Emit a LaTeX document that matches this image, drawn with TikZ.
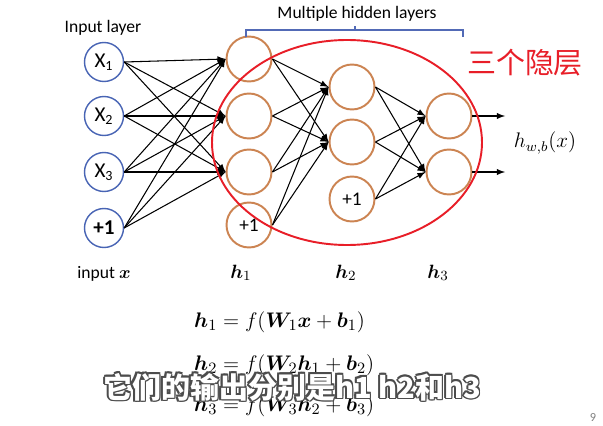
\documentclass[tikz,border=0pt]{standalone}
\usepackage{amsmath,amssymb}
\usepackage{bm}
\usepackage[no-math]{fontspec}
\setmainfont{Carlito}
\newfontfamily\cjk{Noto Sans CJK SC}
\usepackage{xcolor}
\usetikzlibrary{calc}
\definecolor{inblue}{RGB}{72,100,180}
\definecolor{hidorange}{RGB}{204,132,82}
\definecolor{ellred}{RGB}{232,30,40}
\definecolor{brablue}{RGB}{82,106,182}

\begin{document}
\begin{tikzpicture}[x=0.02cm,y=-0.02cm,>=latex,
    innode/.style={circle,draw=inblue,line width=0.8pt,minimum size=0.78cm,inner sep=0pt,font=\fontsize{12}{13}\selectfont},
    hidnode/.style={circle,draw=hidorange,line width=1.1pt,minimum size=0.9cm,inner sep=0pt,font=\fontsize{11}{12}\selectfont},
    conn/.style={->,line width=0.6pt},
    lbl/.style={font=\fontsize{10}{11}\selectfont},
    eqn/.style={anchor=base west,font=\fontsize{12.5}{14}\selectfont},
    subt/.style={font=\cjk\bfseries\fontsize{16.5}{18}\selectfont}]
    \fill[white] (0,0) rectangle (603,426);
    \useasboundingbox (0,0) rectangle (603,426);
    % input layer
    \node[lbl] (inlab) at (103,28) {Input layer};
    \node[innode] (x1) at (104,62) {X\textsubscript{1}};
    \node[innode] (x2) at (104,116) {X\textsubscript{2}};
    \node[innode] (x3) at (104,172) {X\textsubscript{3}};
    \node[innode] (xb) at (104,228) {\textbf{+1}};
    % hidden layer 1
    \node[hidnode] (a1) at (249,59) {};
    \node[hidnode] (a2) at (249,116) {};
    \node[hidnode] (a3) at (249,172) {};
    \node[hidnode] (ab) at (249,225) {+1};
    % hidden layer 2
    \node[hidnode] (b1) at (352,87) {};
    \node[hidnode] (b2) at (352,142) {};
    \node[hidnode] (bb) at (352,199) {+1};
    % hidden layer 3
    \node[hidnode] (c1) at (449,116) {};
    \node[hidnode] (c2) at (449,172) {};
    \coordinate (o1) at (505,116);
    \coordinate (o2) at (505,172);
    \foreach \s in {x1,x2,x3,xb}
        \foreach \t in {a1,a2,a3}
            \draw[conn] (\s.east) -- (\t.west);
    \foreach \s in {a1,a2,a3,ab}
        \foreach \t in {b1,b2}
            \draw[conn] (\s.east) -- (\t.west);
    \foreach \s in {b1,b2,bb}
        \foreach \t in {c1,c2}
            \draw[conn] (\s.east) -- (\t.west);
    \draw[conn] (c1.east) -- (o1);
    \draw[conn] (c2.east) -- (o2);
    \node[font=\fontsize{11.5}{12}\selectfont] (hout) at (545,143) {$h_{w,b}(x)$};
    % bracket over hidden layers
    \draw[brablue,line width=0.8pt] (246,37) -- (246,30) -- (463,30) -- (463,37);
    \draw[brablue,line width=0.8pt] (355,30) -- (355,26);
    \node[lbl] (hidlab) at (357,14) {Multiple hidden layers};
    % red ellipse
    \draw[ellred,line width=1.1pt] (347,142.5) ellipse [x radius=135,y radius=102.5];
    \node[ellred,font=\cjk\fontsize{16.5}{18}\selectfont] (cn) at (525,63) {三个隐层};
    % layer names
    \node[anchor=base,font=\fontsize{10}{12}\selectfont] (nx) at (104,278) {input $\bm{x}$};
    \node[anchor=base,font=\fontsize{11}{12}\selectfont] (n1) at (241,278) {$\bm{h}_1$};
    \node[anchor=base,font=\fontsize{11}{12}\selectfont] (n2) at (346,278) {$\bm{h}_2$};
    \node[anchor=base,font=\fontsize{11}{12}\selectfont] (n3) at (438,278) {$\bm{h}_3$};
    % equations
    \node[eqn] (e1) at (188,327) {$\bm{h}_1=f(\bm{W}_1\bm{x}+\bm{b}_1)$};
    \node[eqn] (e2) at (188,370) {$\bm{h}_2=f(\bm{W}_2\bm{h}_1+\bm{b}_2)$};
    \node[eqn] (e3) at (188,411) {$\bm{h}_3=f(\bm{W}_3\bm{h}_2+\bm{b}_3)$};
    % subtitle
    \foreach \a in {0,45,...,315}
        \node[gray!60!black,subt] (sub\a) at ($(292,387)+(\a:1.6)$) {它们的输出分别是h1 h2和h3};
    \node[white,subt] (sub) at (292,387) {它们的输出分别是h1 h2和h3};
    \node[gray,font=\fontsize{7}{8}\selectfont] (pg) at (593,418) {9};
\end{tikzpicture}
\end{document}
